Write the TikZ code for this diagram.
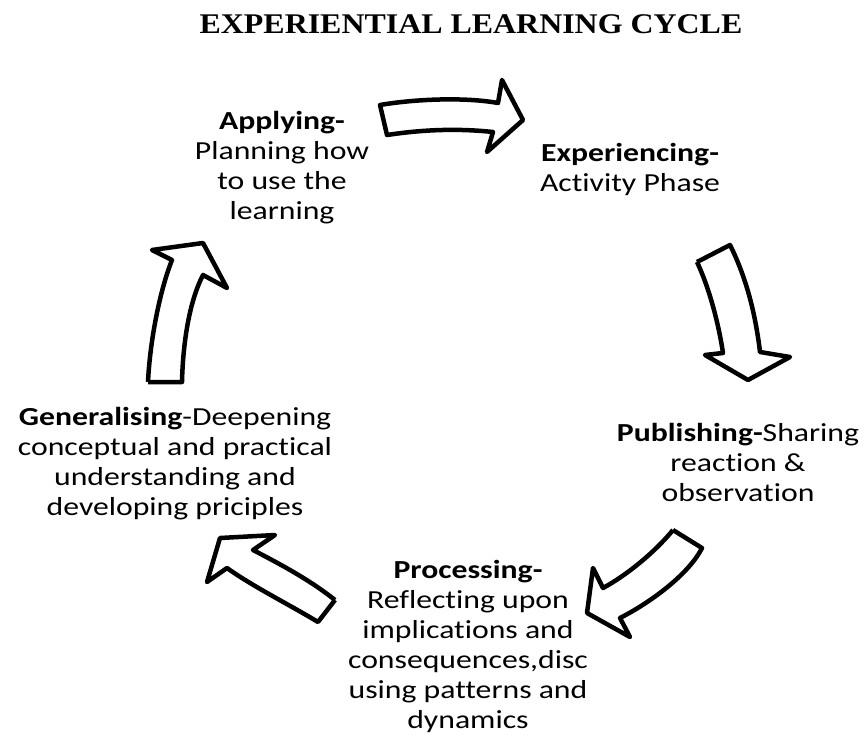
\documentclass[tikz,border=0pt]{standalone}
\usepackage{fontspec}
\setmainfont[FakeStretch=1.22,Ligatures={NoCommon,NoContextual}]{Carlito}
\newfontfamily\titlefont[FakeStretch=1.12]{Liberation Serif}
\begin{document}
\begin{tikzpicture}[x=1pt,y=-1pt,
  lbl/.style={anchor=base,align=center,inner sep=0pt,font=\fontsize{26}{30}\selectfont},
  bigarrow/.style={draw=black,fill=white,line width=4.5pt,line join=round}]
\useasboundingbox (0,0) rectangle (867,739);
\node[anchor=base,inner sep=0pt,font=\titlefont\bfseries\fontsize{28.5}{32}\selectfont] (title) at (471,33) {EXPERIENTIAL LEARNING CYCLE};
% base anchor = baseline of the last line
\node[lbl] (applying) at (282,219) {\textbf{Applying-}\\Planning how\\to use the\\learning};
\node[lbl] (experiencing) at (630,191) {\textbf{Experiencing-}\\Activity Phase};
\node[lbl] (publishing) at (738,501) {\textbf{Publishing-}Sharing\\reaction \&\\observation};
\node[lbl] (processing) at (468,728) {\textbf{Processing-}\\Reflecting upon\\implications and\\consequences,disc\\using patterns and\\dynamics};
\node[lbl] (generalising) at (175,515) {\textbf{Generalising}-Deepening\\conceptual and practical\\understanding and\\developing priciples};
% arrow applying -> experiencing
\draw[bigarrow] (380,105) .. controls (415,99) and (465,97) .. (498,103) -- (502,80) -- (523,120) -- (487,152) -- (493,132) .. controls (455,128) and (420,130) .. (387,135) -- cycle;
% arrow experiencing -> publishing
\draw[bigarrow] (697,262) -- (730,245) .. controls (745,275) and (755,310) .. (760,352) -- (790,357) -- (748,380) -- (705,355) -- (723,353) .. controls (718,320) and (708,285) .. (697,262);
% arrow publishing -> processing
\draw[bigarrow] (673,530) -- (702,548) .. controls (690,572) and (655,600) .. (620,618) -- (630,637) -- (587,613) -- (593,568) -- (603,588) .. controls (627,575) and (655,552) .. (673,530);
% arrow processing -> generalising
\draw[bigarrow] (335,600) -- (318,622) .. controls (290,605) and (252,586) .. (227,568) -- (207,582) -- (220,538) -- (275,535) -- (253,550) .. controls (280,564) and (310,580) .. (335,600);
% arrow generalising -> applying
\draw[bigarrow] (148,382) -- (182,382) .. controls (183,340) and (190,300) .. (203,275) -- (227,288) -- (203,243) -- (152,250) -- (172,260) .. controls (160,290) and (150,340) .. (148,382);
\end{tikzpicture}
\end{document}
